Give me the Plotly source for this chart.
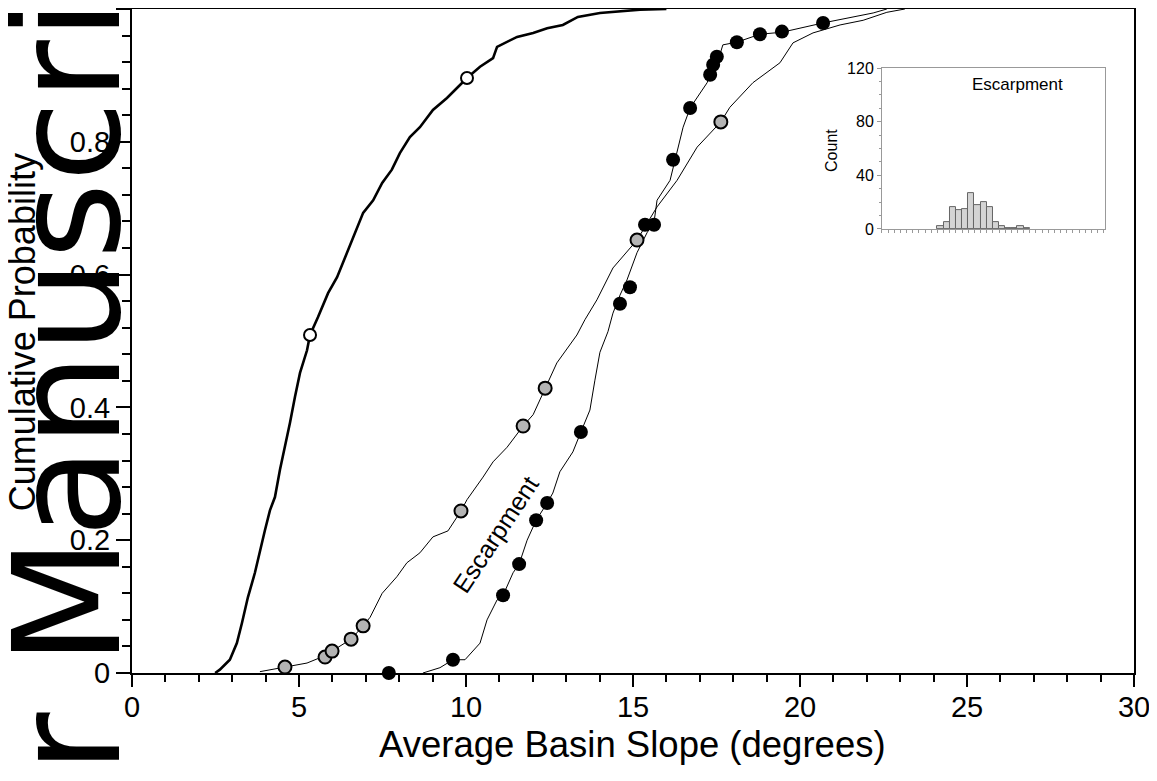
import plotly.graph_objects as go

FONT = 'Liberation Sans, Arial, Helvetica, sans-serif'

# thick curve on the left
left_slope = [2.49, 2.63, 2.93, 3.14, 3.29, 3.47, 3.68, 3.83, 3.98, 4.13, 4.28, 4.43, 4.58, 4.73,
              4.88, 5.03, 5.24, 5.33, 5.57, 5.87, 6.14, 6.44, 6.68, 6.92, 7.22, 7.49, 7.78, 8.02,
              8.32, 8.62, 9.01, 9.43, 9.73, 10.03, 10.42, 10.81, 10.93, 11.53, 12.01, 12.43, 12.90,
              13.35, 14.01, 15.21, 16.0]
left_prob = [0.0, 0.005, 0.020, 0.045, 0.075, 0.114, 0.151, 0.185, 0.215, 0.245, 0.265, 0.306,
             0.340, 0.377, 0.416, 0.452, 0.486, 0.509, 0.536, 0.572, 0.596, 0.633, 0.663, 0.693,
             0.712, 0.738, 0.758, 0.783, 0.807, 0.822, 0.848, 0.866, 0.881, 0.896, 0.913, 0.926,
             0.943, 0.958, 0.964, 0.971, 0.976, 0.988, 0.994, 0.999, 1.0]
left_pick_slope = [5.33, 10.03]
left_pick_prob = [0.509, 0.896]

# thin curve with grey markers
mid_slope = [3.83, 4.58, 5.24, 5.63, 5.78, 5.99, 6.56, 6.92, 7.13, 7.49, 7.93, 8.23, 8.62, 9.01,
             9.46, 9.85, 10.03, 10.51, 10.81, 11.23, 11.71, 12.01, 12.37, 12.72, 13.32, 13.56,
             13.92, 14.40, 15.12, 15.72, 16.32, 16.92, 17.63, 17.90, 18.59, 19.40, 19.79, 20.39,
             21.20, 21.89, 22.60, 23.14]
mid_prob = [0.002, 0.009, 0.015, 0.023, 0.024, 0.033, 0.051, 0.071, 0.084, 0.120, 0.145, 0.166,
            0.181, 0.205, 0.214, 0.244, 0.261, 0.295, 0.318, 0.340, 0.372, 0.389, 0.429, 0.467,
            0.509, 0.532, 0.562, 0.610, 0.652, 0.702, 0.742, 0.792, 0.830, 0.852, 0.889, 0.919,
            0.949, 0.964, 0.976, 0.983, 0.995, 1.0]
mid_pick_slope = [4.58, 5.78, 5.99, 6.56, 6.92, 9.85, 11.71, 12.37, 15.12, 17.63]
mid_pick_prob = [0.009, 0.024, 0.033, 0.051, 0.071, 0.244, 0.372, 0.429, 0.652, 0.830]

# escarpment curve with black markers
esc_slope = [8.71, 9.22, 9.61, 9.97, 10.42, 10.63, 10.93, 11.11, 11.41, 11.59, 11.83, 12.10, 12.43,
             12.60, 12.81, 13.20, 13.44, 13.71, 13.86, 14.01, 14.25, 14.40, 14.61, 14.82, 15.12,
             15.42, 15.63, 15.72, 16.11, 16.32, 16.50, 16.71, 16.92, 17.22, 17.40, 17.60, 17.69,
             18.11, 18.80, 19.46, 20.69, 21.41, 22.19, 22.60]
esc_prob = [0.0, 0.008, 0.020, 0.020, 0.045, 0.080, 0.110, 0.117, 0.151, 0.164, 0.200, 0.230, 0.256,
            0.271, 0.303, 0.333, 0.363, 0.396, 0.441, 0.483, 0.514, 0.542, 0.569, 0.592, 0.633,
            0.663, 0.679, 0.712, 0.742, 0.783, 0.822, 0.851, 0.867, 0.889, 0.916, 0.931, 0.946,
            0.950, 0.962, 0.965, 0.979, 0.986, 0.994, 1.0]
esc_pick_slope = [7.69, 9.61, 11.11, 11.59, 12.10, 12.43, 13.44, 14.61, 14.91, 15.36, 15.63, 16.20,
                  16.71, 17.31, 17.40, 17.51, 18.11, 18.80, 19.46, 20.69]
esc_pick_prob = [0.0, 0.020, 0.117, 0.164, 0.230, 0.256, 0.363, 0.556, 0.581, 0.675, 0.675, 0.773,
                 0.851, 0.901, 0.916, 0.928, 0.950, 0.962, 0.966, 0.979]

# inset histogram of escarpment slopes (1 degree bins)
hist_bin_left = [9, 10, 11, 12, 13, 14, 15, 16, 17, 18, 19, 20, 21, 22, 23]
hist_counts = [2, 5, 16, 14, 15, 27, 18, 20, 16, 5, 2, 1, 1, 2, 1]


fig = go.Figure()

# lines
fig.add_trace(go.Scatter(x=left_slope, y=left_prob, mode='lines',
                         line=dict(color='black', width=2.6), cliponaxis=False))
fig.add_trace(go.Scatter(x=mid_slope, y=mid_prob, mode='lines',
                         line=dict(color='black', width=1), cliponaxis=False))
fig.add_trace(go.Scatter(x=esc_slope, y=esc_prob, mode='lines',
                         line=dict(color='black', width=1), cliponaxis=False))

# markers
fig.add_trace(go.Scatter(x=left_pick_slope, y=left_pick_prob, mode='markers', cliponaxis=False,
                         marker=dict(size=12, color='white', line=dict(color='black', width=2))))
fig.add_trace(go.Scatter(x=mid_pick_slope, y=mid_pick_prob, mode='markers', cliponaxis=False,
                         marker=dict(size=13, color='#b4b4b4', line=dict(color='black', width=2))))
fig.add_trace(go.Scatter(x=esc_pick_slope, y=esc_pick_prob, mode='markers', cliponaxis=False,
                         marker=dict(size=14, color='black', line=dict(color='black', width=0))))

# inset histogram
fig.add_trace(go.Bar(x=[b + 0.5 for b in hist_bin_left], y=hist_counts, width=1,
                     xaxis='x2', yaxis='y2',
                     marker=dict(color='#d4d4d4', line=dict(color='#666666', width=1))))

axis_common = dict(showline=True, linecolor='black', linewidth=2, mirror=True,
                   ticks='outside', tickcolor='black', tickwidth=1.5,
                   showgrid=False, zeroline=False, automargin=False,
                   tickfont=dict(family=FONT, size=29, color='black'))

# the page body adds 8px, so margins are trimmed by that much on the left/top
fig.update_layout(
    width=1157, height=781,
    margin=dict(l=124, r=31, t=1, b=116, autoexpand=False),
    paper_bgcolor='white', plot_bgcolor='white',
    showlegend=False,
    font=dict(family=FONT, color='black'),
    xaxis=dict(range=[0, 30], tick0=0, dtick=5, ticklen=12, ticklabelstandoff=-5,
               minor=dict(dtick=1, ticklen=7, ticks='outside', tickcolor='black', tickwidth=1.5),
               **axis_common),
    yaxis=dict(range=[0, 1], tick0=0, dtick=0.2, ticklen=14,
               minor=dict(dtick=0.04, ticklen=8, ticks='outside', tickcolor='black', tickwidth=1.5),
               **axis_common),
    xaxis2=dict(domain=[0.7485, 0.971], anchor='y2', range=[0, 36.2],
                showline=True, linecolor='#999999', linewidth=1, mirror=True,
                ticks='outside', tick0=0, dtick=1, ticklen=3, tickcolor='#999999',
                showticklabels=False, showgrid=False, zeroline=False, automargin=False),
    yaxis2=dict(domain=[0.6687, 0.911], anchor='x2', range=[0, 120],
                showline=True, linecolor='#999999', linewidth=1, mirror=True,
                ticks='outside', tick0=0, dtick=40, ticklen=4, tickcolor='#999999',
                minor=dict(dtick=10, ticklen=2, ticks='outside', tickcolor='#999999'),
                tickfont=dict(family=FONT, size=16, color='black'),
                showgrid=False, zeroline=False, automargin=False),
    bargap=0,
)

# watermark down the left edge
fig.add_annotation(text='Author Manuscript', xref='paper', yref='paper', x=-0.064, y=0.217,
                   xanchor='center', yanchor='middle', textangle=-90, showarrow=False,
                   font=dict(family='DejaVu Sans', size=148, color='black'))
fig.add_annotation(text='Average Basin Slope (degrees)', xref='paper', yref='paper', x=0.4995, y=-0.108,
                   xanchor='center', yanchor='middle', showarrow=False,
                   font=dict(family=FONT, size=36.5, color='black'))
fig.add_annotation(text='Cumulative Probability', xref='paper', yref='paper', x=-0.1085, y=0.5136,
                   xanchor='center', yanchor='middle', textangle=-90, showarrow=False,
                   font=dict(family=FONT, size=36, color='black'))
fig.add_annotation(text='Escarpment', x=10.87, y=0.208, textangle=-56.5, showarrow=False,
                   font=dict(family=FONT, size=25, color='black'))
fig.add_annotation(text='Count', xref='paper', yref='paper', x=0.6986, y=0.7877,
                   xanchor='center', yanchor='middle', textangle=-90, showarrow=False,
                   font=dict(family=FONT, size=16, color='black'))
fig.add_annotation(text='Escarpment', xref='paper', yref='paper', x=0.884, y=0.887,
                   xanchor='center', yanchor='middle', showarrow=False,
                   font=dict(family=FONT, size=17, color='black'))

fig.write_html('out.html')
